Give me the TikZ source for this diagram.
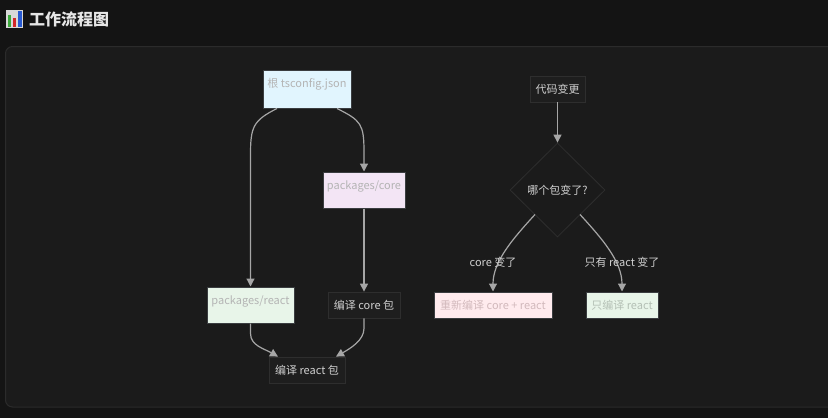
\documentclass[tikz,border=0pt]{standalone}
\usepackage{fontspec}
\setmainfont{Noto Sans CJK SC}
\usetikzlibrary{arrows.meta,shapes.geometric}
\definecolor{outerbg}{HTML}{141414}
\definecolor{panelbg}{HTML}{1B1B1B}
\definecolor{panelline}{HTML}{2B2B2B}
\definecolor{lightline}{HTML}{3A3D40}
\definecolor{darkfill}{HTML}{1E1E1E}
\definecolor{darkline}{HTML}{2E2E2E}
\definecolor{edgecol}{HTML}{A6A6A6}
\definecolor{bluefill}{HTML}{E1F5FE}
\definecolor{lavfill}{HTML}{F3E5F5}
\definecolor{greenfill}{HTML}{E8F5E9}
\definecolor{pinkfill}{HTML}{FFEBEE}
\definecolor{lighttext}{HTML}{B4B4B4}
\definecolor{pinktext}{HTML}{D2B9BC}
\definecolor{greentext}{HTML}{B4C0B5}
\definecolor{darktext}{HTML}{D0D0D0}
\definecolor{titletext}{HTML}{E6E6E6}
\definecolor{iconbg}{HTML}{D9D9D9}
\definecolor{icongreen}{HTML}{3CAA3C}
\definecolor{iconred}{HTML}{D22828}
\definecolor{iconblue}{HTML}{285AD2}
\begin{document}
\begin{tikzpicture}[x=1pt,y=-1pt,
  nodefont/.style={font=\fontsize{11}{13}\selectfont},
  lightbox/.style={nodefont, draw=lightline, line width=1pt, inner sep=0pt,
    text=lighttext, text height=17pt, text depth=19pt},
  flatbox/.style={nodefont, draw=lightline, line width=1pt, inner sep=0pt,
    minimum height=26pt},
  darkbox/.style={nodefont, draw=darkline, fill=darkfill, line width=0.8pt,
    inner sep=0pt, minimum height=26pt, text=darktext},
  arr/.style={draw=edgecol, line width=1.2pt,
    -{Triangle[width=8pt,length=8pt]}},
  edgelabel/.style={nodefont, text=darktext, inner sep=1pt}
]
\fill[outerbg] (0,0) rectangle (828,418);
\useasboundingbox (0,0) rectangle (828,418);
\draw[panelline, fill=panelbg, line width=1pt, rounded corners=7pt]
  (5.5,46.5) rectangle (850,407);

% title icon
\fill[iconbg] (6,10) rectangle (23,28);
\fill[icongreen] (7.5,15) rectangle (11,27);
\fill[iconred] (12.5,18) rectangle (16,27);
\fill[iconblue] (17.5,11) rectangle (21.5,27);
\node[anchor=west, text=titletext, font=\fontsize{16}{18}\selectfont\bfseries, inner sep=0pt]
  (title) at (29,19.5) {工作流程图};

% nodes
\node[lightbox, fill=bluefill, minimum width=88pt, text depth=21pt] (root) at (307,89) {根 tsconfig.json};
\node[lightbox, fill=lavfill, minimum width=82pt] (core) at (364,190) {packages/core};
\node[lightbox, fill=greenfill, minimum width=87pt] (react) at (250.5,305) {packages/react};
\node[darkbox, minimum width=72pt] (bcore) at (364,305) {编译 core 包};
\node[darkbox, minimum width=76pt] (breact) at (307,370) {编译 react 包};

\node[darkbox, minimum width=55pt] (change) at (557.5,89) {代码变更};
\node[diamond, aspect=1, draw=darkline, fill=panelbg, line width=0.8pt, inner sep=0pt,
  minimum width=95pt, minimum height=94pt, nodefont, text=darktext] (dia) at (557.5,190) {哪个包变了?};
\node[flatbox, fill=pinkfill, text=pinktext, minimum width=118pt] (both) at (493,305) {重新编译 core + react};
\node[flatbox, fill=greenfill, text=greentext, minimum width=72pt] (only) at (622,305) {只编译 react};

% helper coordinates
\coordinate (rl) at (250.5,155);
\coordinate (rr) at (364,152);
\coordinate (rs) at ([xshift=-30pt]root.south);
\coordinate (rt) at ([xshift=30pt]root.south);
\coordinate (dl) at ([shift={(-22.5pt,-24.5pt)}]dia.center);
\coordinate (dr) at ([shift={(22.5pt,-24.5pt)}]dia.center);

% edges
\draw[arr] (rs) .. controls +(-24,12) and +(0,-28) .. (rl) -- (react.north);
\draw[arr] (rt) .. controls +(24,12) and +(0,-28) .. (rr) -- (core.north);
\draw[arr] (core.south) -- (bcore.north);
\draw[arr] (react.south) -- ++(0,10) .. controls +(0,12) and +(-14,-8) .. ([xshift=-29pt]breact.north);
\draw[arr] (bcore.south) -- ++(0,10) .. controls +(0,12) and +(14,-8) .. ([xshift=29pt]breact.north);
\draw[arr] (change.south) -- (dia.north);
\draw[arr] (dl) .. controls +(-22,24) and +(0,-30) .. (both.north);
\draw[arr] (dr) .. controls +(22,24) and +(0,-30) .. (only.north);

\node[edgelabel] (l1) at (493,262) {core 变了};
\node[edgelabel] (l2) at (622,262) {只有 react 变了};
\end{tikzpicture}
\end{document}
